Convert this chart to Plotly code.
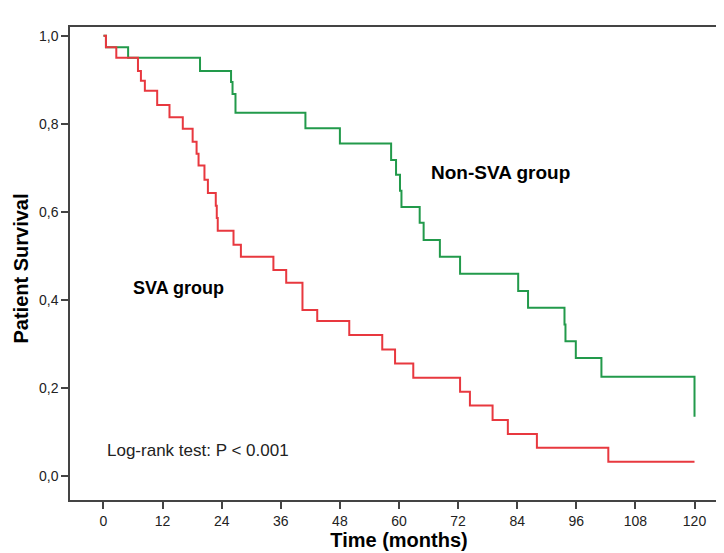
import plotly.graph_objects as go

# Kaplan-Meier steps (months, survival)
nonsva_time = [0, 0.5, 5, 19.6, 25.9, 26.2, 26.8, 41, 48, 58.4, 59.4, 60.2, 60.5,
               64.2, 65.0, 68.3, 72.4, 84.2, 86.2, 93.6, 93.8, 95.9, 101.1, 120]
nonsva_surv = [1.0, 0.974, 0.95, 0.92, 0.895, 0.868, 0.825, 0.79, 0.755, 0.718, 0.684, 0.648, 0.611,
               0.575, 0.536, 0.498, 0.459, 0.42, 0.382, 0.344, 0.306, 0.268, 0.225, 0.134]

sva_time = [0, 0.5, 2.6, 7.0, 7.6, 8.4, 10.9, 13.4, 16.1, 18.1, 18.9, 19.3, 20.5, 21.2,
            22.8, 23.0, 23.2, 26.4, 27.9, 34.5, 37.1, 40.4, 43.4, 49.9, 56.6, 59.2,
            62.9, 72.4, 74.4, 79.0, 82.1, 88.0, 102.5, 120]
sva_surv = [1.0, 0.974, 0.95, 0.92, 0.898, 0.875, 0.843, 0.815, 0.789, 0.759, 0.732, 0.705, 0.673, 0.643,
            0.614, 0.586, 0.557, 0.525, 0.498, 0.468, 0.439, 0.377, 0.352, 0.32, 0.287, 0.255,
            0.223, 0.191, 0.16, 0.127, 0.095, 0.064, 0.032, 0.032]

x_ticks = [0, 12, 24, 36, 48, 60, 72, 84, 96, 108, 120]
y_ticks = [0.0, 0.2, 0.4, 0.6, 0.8, 1.0]

font = 'Liberation Sans, Arial, sans-serif'

fig = go.Figure()

fig.add_trace(go.Scatter(x=nonsva_time, y=nonsva_surv, mode='lines', line_shape='hv',
                         line=dict(color='#229a4b', width=2), showlegend=False))
fig.add_trace(go.Scatter(x=sva_time, y=sva_surv, mode='lines', line_shape='hv',
                         line=dict(color='#e8383f', width=2), showlegend=False))

# labels inside the plot
fig.add_annotation(x=66, y=0.689, text='<b>Non-SVA group</b>', showarrow=False,
                   xanchor='left', font=dict(size=19, color='black', family=font))
fig.add_annotation(x=5.6, y=0.427, text='<b>SVA group</b>', showarrow=False,
                   xanchor='left', font=dict(size=18, color='black', family=font))
fig.add_annotation(x=0.3, y=0.057, text='Log-rank test: P < 0.001', showarrow=False,
                   xanchor='left', font=dict(size=17, color='#222', family=font))

# y axis title placed by hand, further left than plotly would put it
fig.add_annotation(xref='paper', yref='paper', x=-0.074, y=0.49, textangle=-90,
                   text='<b>Patient Survival</b>', showarrow=False, xanchor='center',
                   font=dict(size=20, color='black', family=font))

fig.update_layout(
    width=724, height=553,
    margin=dict(l=62, r=2, t=19, b=61),
    plot_bgcolor='white', paper_bgcolor='white',
    separators=',.',
    font=dict(family=font, color='#222'),
    xaxis=dict(range=[-6.8, 126.8], tickvals=x_ticks, ticks='outside', ticklen=7,
               tickwidth=1.5, tickcolor='#444', showgrid=False, zeroline=False,
               showline=True, mirror=True, linecolor='#444', linewidth=1.5,
               tickfont=dict(size=14),
               title=dict(text='<b>Time (months)</b>', font=dict(size=20, color='black'), standoff=5)),
    yaxis=dict(range=[-0.055, 1.02], tickvals=y_ticks, tickformat='.1f', ticks='outside',
               ticklen=7, tickwidth=1.5, tickcolor='#444', showgrid=False, zeroline=False,
               showline=True, mirror=True, linecolor='#444', linewidth=1.5,
               tickfont=dict(size=14)),
)

fig.write_html("out.html")
